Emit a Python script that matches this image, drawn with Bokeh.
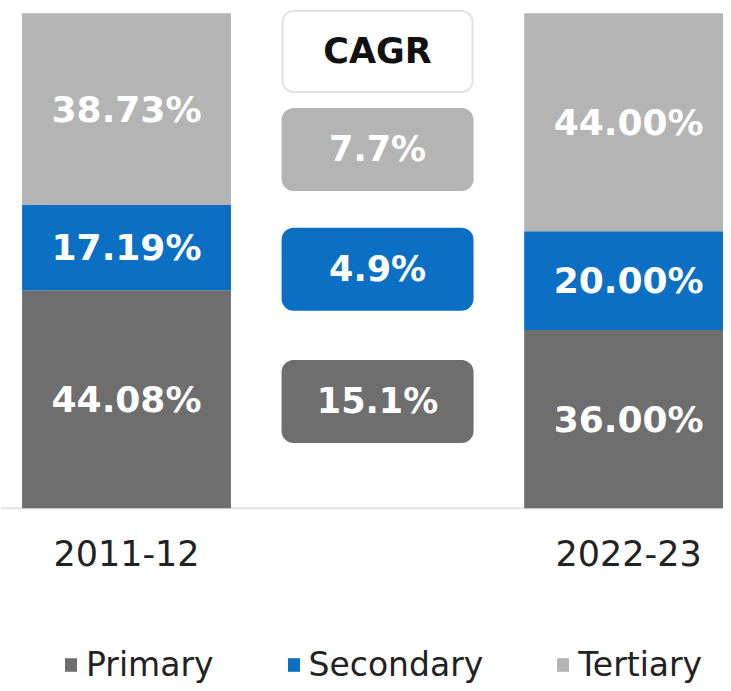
from bokeh.plotting import figure
from bokeh.models import (ColumnDataSource, Range1d, Span, Legend, LegendItem)
from bokeh.core.properties import value
from bokeh.embed import file_html
from bokeh.resources import INLINE

# ---- data ----
years = ["2011-12", "2022-23"]
primary = [44.08, 36.00]
secondary = [17.19, 20.00]
tertiary = [38.73, 44.00]
sectors = ["Primary", "Secondary", "Tertiary"]
cagr_labels = ["CAGR", "7.7%", "4.9%", "15.1%"]

# ---- styles / layout ----
colors = {"Primary": "#6e6e6e", "Secondary": "#0b6fc4", "Tertiary": "#b4b4b4"}
FONT = "DejaVu Sans"
bar_width = 0.416
cagr_y = [92.3, 72.5, 48.3, 21.6]          # layout: vertical centers of CAGR boxes
cagr_fill = ["#ffffff", colors["Tertiary"], colors["Secondary"], colors["Primary"]]
cagr_line = ["#e2e2e2", colors["Tertiary"], colors["Secondary"], colors["Primary"]]
cagr_text = ["#111111", "#ffffff", "#ffffff", "#ffffff"]
year_label_y = -9.1

x = list(range(len(years)))
src = ColumnDataSource(dict(x=x, year=years, Primary=primary,
                            Secondary=secondary, Tertiary=tertiary))

p = figure(width=723, height=683, output_backend="svg", toolbar_location=None,
           x_range=Range1d(-0.251, 1.189), y_range=Range1d(-35.4, 102.6),
           min_border=0, outline_line_color=None)
p.xaxis.visible = False
p.yaxis.visible = False
p.grid.visible = False
p.background_fill_color = "white"

p.add_layout(Span(location=0, dimension="width", line_color="#e4e4e4",
                  line_width=2, level="underlay"))

rends = p.vbar_stack(sectors, x="x", width=bar_width, source=src,
                     color=[colors[s] for s in sectors], line_color=None)

# segment labels
for i, s in enumerate(sectors):
    mids, labs = [], []
    for j in range(len(years)):
        base = sum(src.data[sectors[k]][j] for k in range(i))
        v = src.data[s][j]
        mids.append(base + v / 2)
        labs.append(f"{v:.2f}%")
    p.text(x=x, y=mids, text=labs, text_align="center", text_baseline="middle",
           text_color="white", text_font=value(FONT), text_font_style="bold",
           text_font_size="36px")

# CAGR boxes
mid_x = sum(x) / len(x)
csrc = ColumnDataSource(dict(x=[mid_x] * len(cagr_labels), y=cagr_y, t=cagr_labels,
                             fill=cagr_fill, line=cagr_line, tc=cagr_text))
p.rect(x="x", y="y", width=190, height=81, width_units="screen",
       height_units="screen", fill_color="fill", line_color="line",
       line_width=2, border_radius=11, source=csrc)
p.text(x="x", y="y", text="t", text_color="tc", text_align="center",
       text_baseline="middle", text_font=value(FONT), text_font_style="bold",
       text_font_size="35px", source=csrc)

# year labels
p.text(x=x, y=[year_label_y] * len(years), text=years, text_align="center",
       text_baseline="middle", text_color="#222222", text_font=value(FONT),
       text_font_size="35px")

legend = Legend(items=[LegendItem(label=s, renderers=[r]) for s, r in zip(sectors, rends)],
                orientation="horizontal", location=(63, -1),
                glyph_width=15, glyph_height=17, label_standoff=8, spacing=72,
                label_text_font=FONT, label_text_font_size="33px",
                label_text_color="#222222", padding=0, margin=0,
                border_line_color=None, background_fill_alpha=0)
p.add_layout(legend, "center")

open("out.html", "w").write(file_html(p, INLINE))
